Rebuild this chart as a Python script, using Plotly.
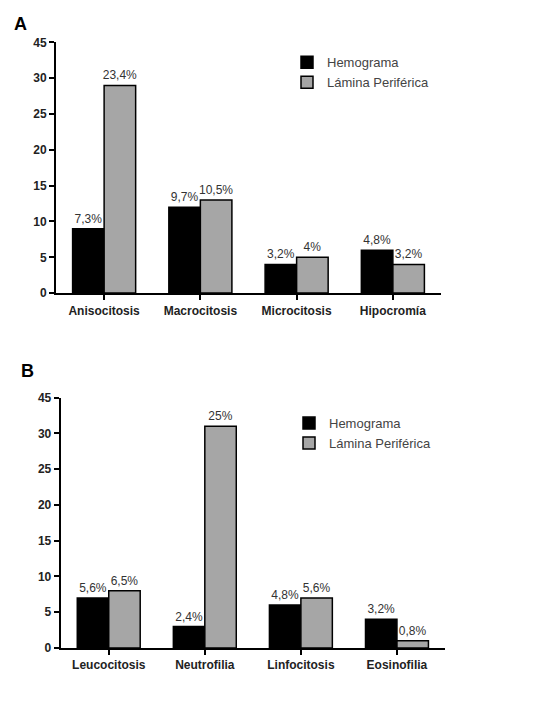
import plotly.graph_objects as go

# Panel A data
cats_a = ["Anisocitosis", "Macrocitosis", "Microcitosis", "Hipocromía"]
hemo_a = [9, 12, 4, 6]
lam_a = [29, 13, 5, 4]
hemo_a_lbl = ["7,3%", "9,7%", "3,2%", "4,8%"]
lam_a_lbl = ["23,4%", "10,5%", "4%", "3,2%"]

# Panel B data
cats_b = ["Leucocitosis", "Neutrofilia", "Linfocitosis", "Eosinofilia"]
hemo_b = [7, 3, 6, 4]
lam_b = [8, 31, 7, 1]
hemo_b_lbl = ["5,6%", "2,4%", "4,8%", "3,2%"]
lam_b_lbl = ["6,5%", "25%", "5,6%", "0,8%"]

# Broken y axis: ticks 0..30 then 45 drawn where 35 would be
tick_vals = [0, 5, 10, 15, 20, 25, 30, 35]
tick_text = ["0", "5", "10", "15", "20", "25", "30", "45"]

W, H = 540, 711
OFF = 8  # page body margin offset
BLACK = "#000000"
GRAY = "#a6a6a6"
FONT = "Liberation Sans, Arial, sans-serif"

fig = go.Figure()

def add_panel(cats, hv, lv, hl, ll, xa, ya, legend):
    common = dict(marker_line_color="black", marker_line_width=1.5,
                  textposition="outside", constraintext="none", cliponaxis=False,
                  textfont=dict(family=FONT, size=12, color="#333333"),
                  xaxis=xa, yaxis=ya, legend=legend, showlegend=True)
    fig.add_trace(go.Bar(x=cats, y=hv, text=hl, name="Hemograma",
                         marker_color=BLACK, **common))
    fig.add_trace(go.Bar(x=cats, y=lv, text=ll, name="Lámina Periférica",
                         marker_color=GRAY, **common))

add_panel(cats_a, hemo_a, lam_a, hemo_a_lbl, lam_a_lbl, "x", "y", "legend")
add_panel(cats_b, hemo_b, lam_b, hemo_b_lbl, lam_b_lbl, "x2", "y2", "legend2")

def px_x(p):
    return (p - OFF) / W

def px_y(p):
    return 1 - (p - OFF) / H

axis_common = dict(showline=True, linecolor="black", linewidth=2, showgrid=False,
                   zeroline=False, ticks="outside", tickwidth=2, ticklen=5,
                   tickcolor="black",
                   tickfont=dict(family=FONT, size=12, color="#222222", weight="bold"))

yax = dict(range=[0, 35], tickvals=tick_vals, ticktext=tick_text, **axis_common)
xax = dict(range=[-0.5, 3.5], **axis_common)

fig.update_layout(
    width=W, height=H,
    margin=dict(l=0, r=0, t=0, b=0),
    paper_bgcolor="white", plot_bgcolor="white",
    barmode="group", bargap=0.345, bargroupgap=0,
    xaxis=dict(domain=[px_x(56), px_x(441)], anchor="y", **xax),
    yaxis=dict(domain=[px_y(291.7), px_y(36)], anchor="x", **yax),
    xaxis2=dict(domain=[px_x(60.7), px_x(445)], anchor="y2", **xax),
    yaxis2=dict(domain=[px_y(653.7), px_y(398.3)], anchor="x2", **yax),
    legend=dict(x=px_x(287), y=px_y(41), xanchor="left", yanchor="top",
                font=dict(family=FONT, size=13, color="#444444"),
                bgcolor="rgba(0,0,0,0)", tracegroupgap=0),
    legend2=dict(x=px_x(289), y=px_y(409), xanchor="left", yanchor="top",
                 font=dict(family=FONT, size=13, color="#444444"),
                 bgcolor="rgba(0,0,0,0)", tracegroupgap=0),
    annotations=[
        dict(text="<b>A</b>", x=px_x(20), y=px_y(17), xref="paper", yref="paper",
             xanchor="center", yanchor="middle",
             showarrow=False, font=dict(family=FONT, size=18, color="black")),
        dict(text="<b>B</b>", x=px_x(27), y=px_y(371), xref="paper", yref="paper",
             xanchor="center", yanchor="middle",
             showarrow=False, font=dict(family=FONT, size=18, color="black")),
    ],
)

fig.write_html("out.html")
